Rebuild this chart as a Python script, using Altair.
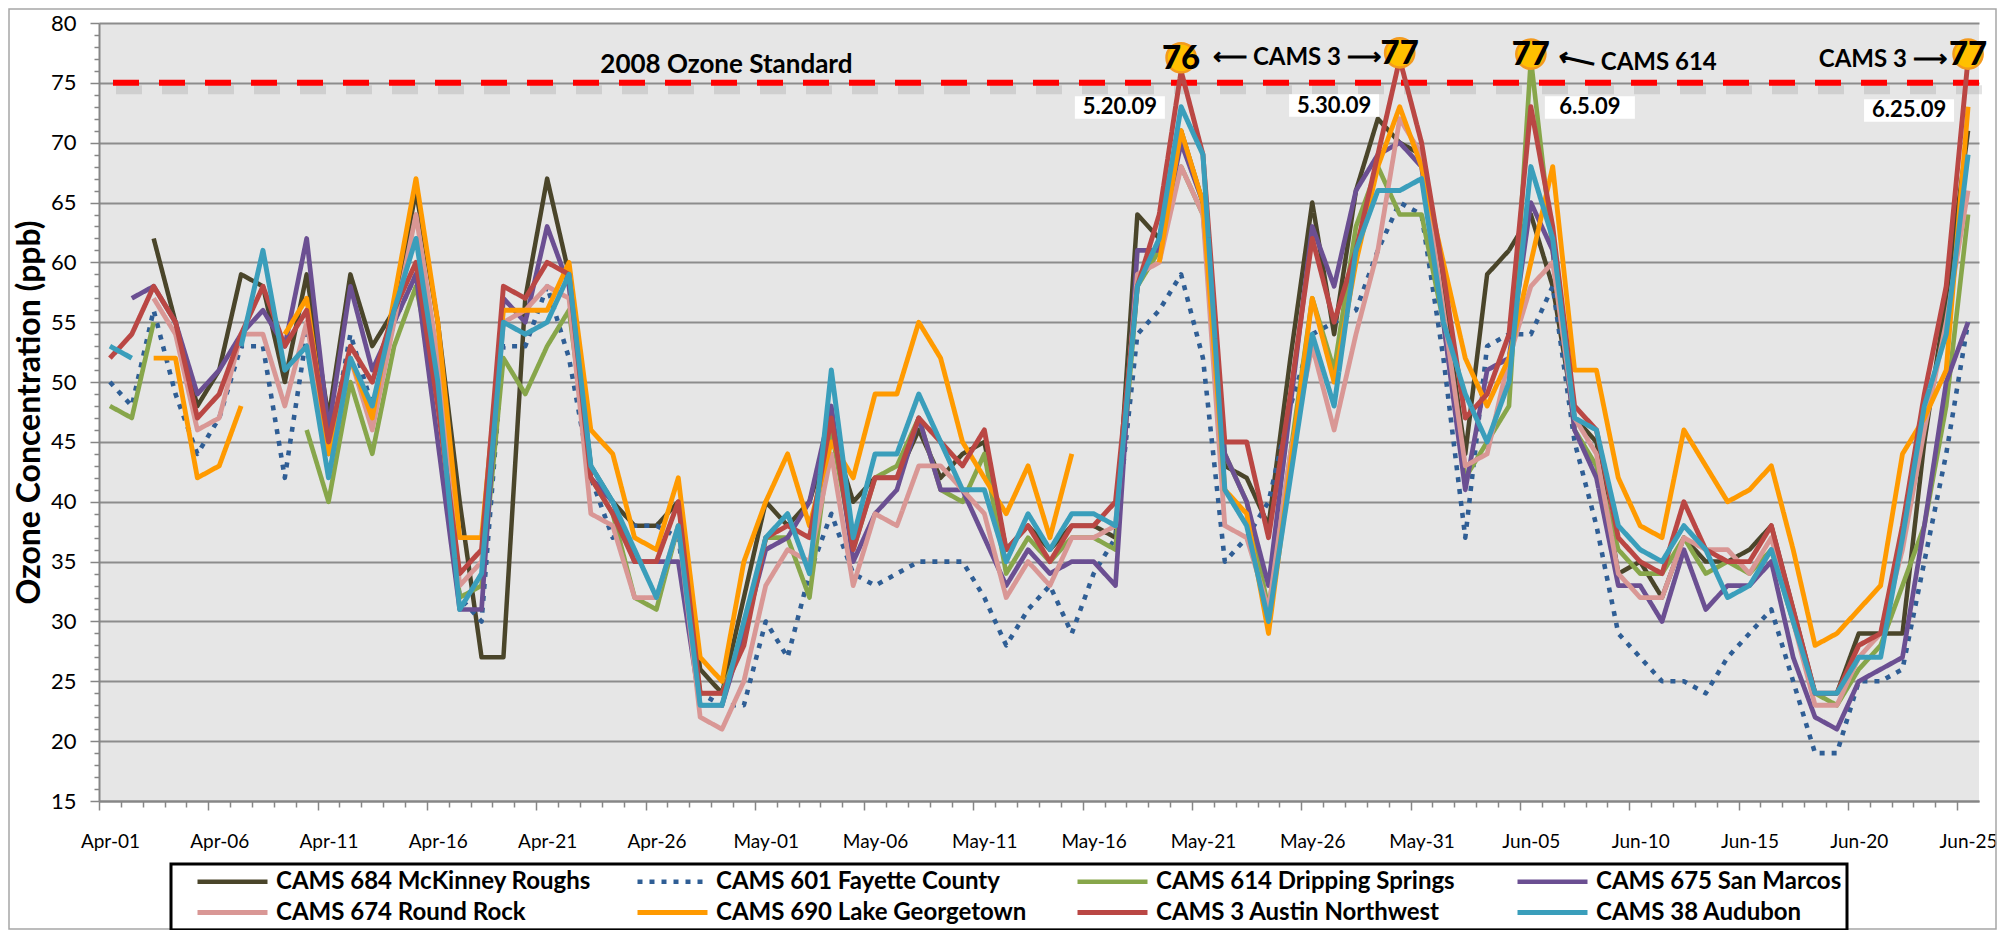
import json
import altair as alt
import pandas as pd

N = None

# ---------------- data ----------------
DATES = [d.strftime("%b-%d") for d in pd.date_range("2009-04-01", "2009-06-25")]
TICK_LABELS = DATES[::5]

SERIES = [
    "CAMS 684 McKinney Roughs",
    "CAMS 601 Fayette County",
    "CAMS 614 Dripping Springs",
    "CAMS 675 San Marcos",
    "CAMS 674 Round Rock",
    "CAMS 690 Lake Georgetown",
    "CAMS 3 Austin Northwest",
    "CAMS 38 Audubon",
]

MCKINNEY = [N, N, 62, 55, 48, 51, 59, 58, 50, 59, 47, 59, 53, 56, 66,
            55, 40, 27, 27, 57, 67, 59, 43, 40, 38, 38, 40, 26, 24, 32,
            40, 38, 40, 46, 40, 42, 42, 46, 42, 44, 45, 36, 38, 36, 38,
            38, 37, 64, 62, 71, 65, 43, 42, 38, 52, 65, 54, 66, 72, 70,
            69, 57, 44, 59, 61, 64, 58, 47, 45, 34, 35, 32, 37, 35, 35,
            36, 38, 31, 24, 24, 29, 29, 29, 45, 57, 71]
FAYETTE = [50, 48, 56, 49, 44, 47, 53, 53, 42, 54, 44, 54, 48, 55, 59,
           50, 32, 30, 53, 53, 58, 52, 42, 37, 38, 38, 37, 24, 23, 23,
           30, 27, 34, 39, 34, 33, 34, 35, 35, 35, 32, 28, 31, 33, 29,
           34, 37, 54, 56, 59, 52, 35, 37, 40, 48, 54, 55, 56, 61, 65,
           64, 52, 37, 53, 54, 54, 58, 45, 38, 29, 27, 25, 25, 24, 27,
           29, 31, 25, 19, 19, 25, 25, 26, 35, 44, 55]
DRIPPING = [48, 47, 55, N, N, N, N, N, N, 46, 40, 50, 44, 53, 58,
            49, 32, 33, 52, 49, 53, 56, 42, 39, 32, 31, 38, 24, 24, 29,
            37, 37, 32, 46, 36, 42, 43, 47, 41, 40, 44, 34, 37, 35, 37,
            37, 36, 58, 61, 68, 64, 44, 40, 31, 44, 57, 51, 63, 68, 64,
            64, 55, 42, 45, 48, 77, 61, 46, 43, 36, 34, 34, 37, 34, 35,
            34, 36, 30, 24, 23, 26, 28, 33, 38, 48, 64]
SANMARCOS = [N, 57, 58, 55, 49, 51, 54, 56, 53, 62, 46, 58, 51, 55, 59,
             45, 31, 31, 57, 55, 63, 58, 42, 40, 35, 35, 35, 23, 23, 29,
             36, 37, 40, 48, 35, 39, 41, 47, 41, 41, 37, 33, 36, 34, 35,
             35, 33, 61, 61, 70, 65, 44, 40, 33, 48, 63, 58, 66, 69, 70,
             68, 55, 41, 51, 52, 65, 61, 46, 42, 33, 33, 30, 36, 31, 33,
             33, 35, 27, 22, 21, 25, 26, 27, 38, 50, 55]
ROUNDROCK = [N, N, 57, 54, 46, 47, 54, 54, 48, 55, 44, 52, 46, 55, 64,
             52, 33, 35, 55, 56, 58, 57, 39, 38, 32, 32, 38, 22, 21, 25,
             33, 36, 35, 44, 33, 39, 38, 43, 43, 41, 39, 32, 35, 33, 37,
             37, 38, 59, 60, 68, 64, 38, 37, 31, 44, 53, 46, 54, 61, 72,
             69, 56, 43, 44, 52, 58, 60, 47, 44, 34, 32, 32, 37, 36, 36,
             34, 37, 30, 23, 23, 27, 29, 36, 46, 55, 66]
GEORGETOWN = [N, N, 52, 52, 42, 43, 48, N, 54, 57, 44, 52, 47, 57, 67,
              55, 37, 37, 56, 56, 56, 60, 46, 44, 37, 36, 42, 27, 25, 35,
              40, 44, 38, 45, 42, 49, 49, 55, 52, 45, 42, 39, 43, 37, 44,
              N, N, N, 60, 71, 65, 41, 39, 29, 43, 57, 50, 60, 68, 73,
              68, 60, 52, 48, 52, 60, 68, 51, 51, 42, 38, 37, 46, 43, 40,
              41, 43, 36, 28, 29, 31, 33, 44, 47, 51, 73]
AUSTIN_NW = [52, 54, 58, 55, 47, 49, 54, 58, 53, 56, 45, 53, 50, 56, 60,
             48, 34, 36, 58, 57, 60, 59, 42, 39, 35, 35, 40, 24, 24, 28,
             37, 38, 37, 47, 36, 42, 42, 47, 45, 43, 46, 36, 38, 35, 38,
             38, 40, 58, 64, 76, 69, 45, 45, 37, 49, 62, 55, 61, 69, 77,
             70, 59, 47, 49, 54, 73, 63, 48, 46, 37, 35, 34, 40, 36, 35,
             35, 38, 31, 24, 24, 28, 29, 38, 49, 58, 77]
AUDUBON = [53, 52, N, N, N, N, 53, 61, 51, 53, 42, 52, 48, 56, 62,
           50, 31, 34, 55, 54, 55, 59, 43, 40, 36, 32, 38, 23, 23, 30,
           37, 39, 34, 51, 37, 44, 44, 49, 45, 41, 41, 35, 39, 36, 39,
           39, 38, 58, 62, 73, 69, 41, 38, 30, 42, 54, 48, 61, 66, 66,
           67, 55, 49, 45, 50, 68, 62, 47, 46, 38, 36, 35, 38, 36, 32,
           33, 36, 30, 24, 24, 27, 27, 37, 48, 54, 69]

VALUES = [MCKINNEY, FAYETTE, DRIPPING, SANMARCOS, ROUNDROCK, GEORGETOWN, AUSTIN_NW, AUDUBON]

STANDARD = 75
PEAK_DAYS = [49, 59, 65, 85]
PEAK_VALUES = [76, 77, 77, 77]
PEAK_DATES = ["5.20.09", "5.30.09", "6.5.09", "6.25.09"]

# annotation anchor positions (data units)
PEAK_LABEL_Y = [77.1, 77.5, 77.4, 77.4]
DATE_BOX_X = [46.2, 56.0, 67.7, 82.3]
DATE_BOX_Y = [72.95, 73.1, 72.95, 72.7]
NOTE_TEXT = ["\u27f5 CAMS 3 \u27f6", "CAMS 614", "CAMS 3 \u27f6"]
NOTE_X = [54.3, 70.85, 81.1]
NOTE_Y = [77.1, 76.66, 76.94]
ARROW_X = [67.1]
ARROW_Y = [76.85]
STD_LABEL_X = [28.2]
STD_LABEL_Y = [76.5]

# ---------------- style ----------------
COLORS = ["#4A452A", "#2F5E95", "#87A64A", "#6B4F92", "#D99795", "#FF9A00", "#BA4744", "#3A9EBB"]
DASHES = [[1, 0], [5, 7], [1, 0], [1, 0], [1, 0], [1, 0], [1, 0], [1, 0]]
WIDTHS = [4.5, 5, 5, 5, 5, 5, 7.5, 9]
FONT = "Lato"
W, H = 1880, 778
HALF = W / 86 / 2
SVG_H = 922

for v in VALUES:
    assert len(v) == 86

rows = []
for s, vals in zip(SERIES, VALUES):
    for i, v in enumerate(vals):
        rows.append({"day": i, "date": DATES[i], "series": s, "ppb": v})
df = pd.DataFrame(rows)

major5 = "datum.value % 5 === 0"

X_AXIS = alt.Axis(
    values=list(range(86)),
    labelExpr=f"{major5} ? {json.dumps(TICK_LABELS)}[datum.value / 5] : ''",
    labelOverlap=False, labelBound=False, labelFlush=False,
    tickOffset=-HALF, labelOffset=HALF,
    tickSize={"condition": {"test": major5, "value": 9}, "value": 6},
    tickColor="#868686", tickWidth=1.5,
    domainColor="#868686", domainWidth=2,
    labelFont=FONT, labelFontSize=19, labelColor="black", labelPadding=22,
    grid=False, title=None,
)
Y_AXIS = alt.Axis(
    values=list(range(15, 81)),
    labelExpr=f"{major5} ? datum.label : ''",
    labelOverlap=False,
    tickSize={"condition": {"test": major5, "value": 9}, "value": 5},
    tickColor="#868686", tickWidth=1.5,
    domainColor="#868686", domainWidth=2,
    grid=True, gridColor="#8C8C8C", gridWidth=2,
    gridOpacity={"condition": {"test": major5, "value": 1}, "value": 0},
    labelFont=FONT, labelFontSize=22, labelColor="black", labelPadding=14,
    title="Ozone Concentration (ppb)", titleFont=FONT, titleFontSize=32,
    titleFontWeight="bold", titleColor="black",
    titleX=-70, titleY=H / 2, titleAngle=270, titleAlign="center", titleBaseline="middle",
)
X_ENC = alt.X("day:Q", scale=alt.Scale(domain=[-0.5, 85.5], nice=False, zero=False), axis=X_AXIS)
Y_ENC = alt.Y("ppb:Q", scale=alt.Scale(domain=[15, 80], nice=False, zero=False), axis=Y_AXIS)

LEG = alt.Legend(
    title=None, orient="none", legendX=72, legendY=841, columns=4, direction="horizontal",
    gridAlign="all",
    symbolType="M-3.5,0H3.5", symbolSize=400, symbolStrokeWidth=5, symbolOffset=44,
    labelOffset=31, labelFont=FONT, labelFontSize=24, labelFontWeight="bold",
    labelColor="black", labelLimit=0, columnPadding=25, rowPadding=6, padding=5,
    strokeColor="black",
)
COLOR = alt.Color("series:N", scale=alt.Scale(domain=SERIES, range=COLORS), legend=LEG)
DASH = alt.StrokeDash("series:N", scale=alt.Scale(domain=SERIES, range=DASHES), legend=LEG)
SW = alt.StrokeWidth("series:N", scale=alt.Scale(domain=SERIES, range=WIDTHS), legend=None)

base = alt.Chart(df).mark_line(strokeJoin="round", strokeCap="butt",
                               invalid="break-paths-show-domains").encode(
    x=X_ENC, y=Y_ENC, color=COLOR, strokeDash=DASH, strokeWidth=SW,
)
line_layers = [base.transform_filter(alt.datum.series == s) for s in SERIES]

std_df = pd.DataFrame({"ppb": [STANDARD]})
shadow = alt.Chart(std_df).mark_rule(color="#808080", opacity=0.22, strokeWidth=9,
                                     strokeDash=[26, 20], yOffset=7, xOffset=3).encode(y=Y_ENC)
std_rule = alt.Chart(std_df).mark_rule(color="#FF0000", strokeWidth=6,
                                       strokeDash=[26, 20]).encode(y=Y_ENC)

std_label = alt.Chart(pd.DataFrame({"day": STD_LABEL_X, "ppb": STD_LABEL_Y,
                                    "t": ["2008 Ozone Standard"]})).mark_text(
    font=FONT, fontSize=26, fontWeight="bold", color="black", align="center", baseline="middle"
).encode(x=X_ENC, y=Y_ENC, text="t:N")

date_df = pd.DataFrame({"day": DATE_BOX_X, "ppb": DATE_BOX_Y, "t": PEAK_DATES})
date_box = alt.Chart(date_df).mark_point(
    shape="M-2,-0.5H2V0.5H-2Z", size=2025, filled=True, fill="white", strokeWidth=0, opacity=1
).encode(x=X_ENC, y=Y_ENC)
date_txt = alt.Chart(date_df).mark_text(
    font=FONT, fontSize=22, fontWeight="bold", color="black", align="center", baseline="middle"
).encode(x=X_ENC, y=Y_ENC, text="t:N")

peak_df = pd.DataFrame({"day": PEAK_DAYS, "ppb": PEAK_LABEL_Y, "t": [str(v) for v in PEAK_VALUES]})
peak_dot = alt.Chart(peak_df).mark_point(
    shape="circle", size=850, filled=True, fill="#FFC000", stroke="#F39A1E", strokeWidth=2.5, opacity=1
).encode(x=X_ENC, y=Y_ENC)
peak_txt = alt.Chart(peak_df).mark_text(
    font=FONT, fontSize=33, fontWeight=900, color="black", align="center", baseline="middle", dy=1
).encode(x=X_ENC, y=Y_ENC, text="t:N")

note_df = pd.DataFrame({"day": NOTE_X, "ppb": NOTE_Y, "t": NOTE_TEXT})
note_txt = alt.Chart(note_df).mark_text(
    font=FONT, fontSize=24, fontWeight="bold", color="black", align="center", baseline="middle"
).encode(x=X_ENC, y=Y_ENC, text="t:N")
arrow_txt = alt.Chart(pd.DataFrame({"day": ARROW_X, "ppb": ARROW_Y, "t": ["\u27f5"]})).mark_text(
    font=FONT, fontSize=26, fontWeight="bold", color="black", align="center", baseline="middle", angle=13
).encode(x=X_ENC, y=Y_ENC, text="t:N")

frame = alt.Chart(pd.DataFrame({"a": [0]})).mark_rect(
    fillOpacity=0, stroke="#A6A6A6", strokeWidth=1.5
).encode(x=alt.value(-90), x2=alt.value(W + 17), y=alt.value(-14), y2=alt.value(SVG_H - 16))

chart = alt.layer(
    shadow, std_rule, *line_layers, std_label, date_box, date_txt,
    peak_dot, peak_txt, note_txt, arrow_txt, frame,
).properties(
    width=W, height=H,
    autosize=alt.AutoSizeParams(type="none"),
    padding={"left": 91, "top": 15, "right": 18, "bottom": SVG_H - 15 - H},
).configure(
    background="white", font=FONT,
).configure_view(
    fill="#E6E6E6", stroke=None,
).configure_legend(
    strokeWidth=3,
)

chart.save("out.html", embed_options={"renderer": "svg", "actions": False})
